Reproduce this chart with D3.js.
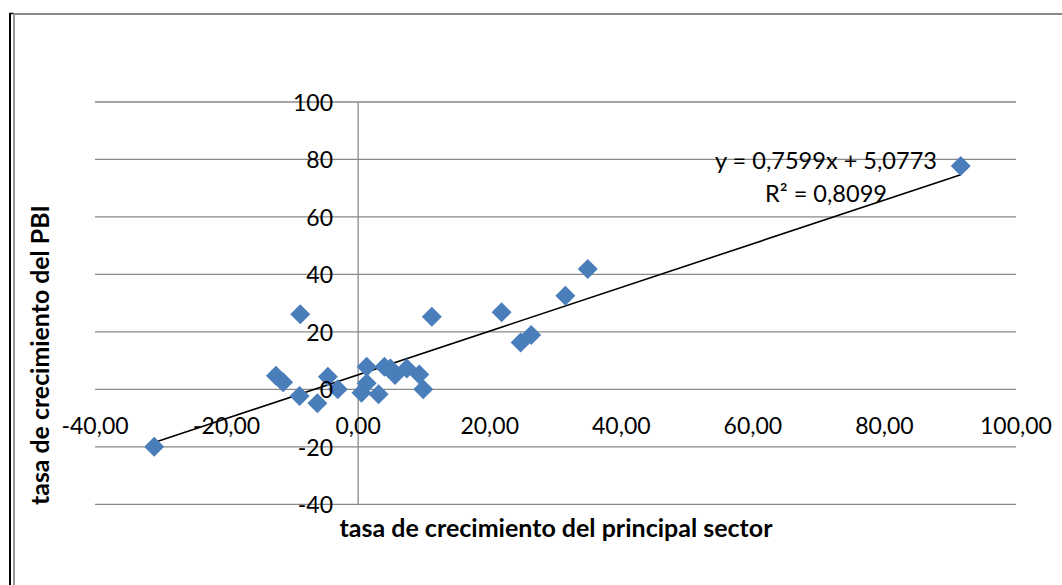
<!DOCTYPE html>
<html>
<head>
<meta charset="utf-8">
<script src="https://cdn.jsdelivr.net/npm/d3@7"></script>
<style>
  html, body { margin: 0; padding: 0; background: #fff; }
  svg { display: block; }
  text { font-family: Lato, "Open Sans", sans-serif; fill: #000; }
</style>
</head>
<body>
<svg id="chart" width="1062" height="585"></svg>
<script>
// ---- data ----
const sectorGrowth = [-31.0, -12.5, -11.4, -8.8, -8.9, -6.2, -4.6, -3.1, 0.5, 1.3, 1.3, 3.1, 4.0, 4.9, 5.6, 7.4, 9.3, 9.9, 11.2, 21.8, 24.7, 26.3, 31.5, 34.9, 91.6];
const gdpGrowth    = [-20.0, 4.7, 2.5, 26.1, -2.3, -4.8, 4.4, 0.0, -1.2, 2.1, 7.9, -1.7, 7.9, 7.3, 5.0, 7.3, 5.2, 0.0, 25.3, 26.8, 16.3, 18.9, 32.6, 41.9, 77.7];
const xTickValues  = [-40, -20, 0, 20, 40, 60, 80, 100];
const yTickValues  = [-40, -20, 0, 20, 40, 60, 80, 100];
const trendSlope = 0.7599;
const trendIntercept = 5.0773;
const trendEquation = "y = 0,7599x + 5,0773";
const trendR2 = "R² = 0,8099";
const xTitle = "tasa de crecimiento del principal sector";
const yTitle = "tasa de crecimiento del PBI";

// ---- layout ----
const svg = d3.select("#chart");
const x = d3.scaleLinear().domain([-40, 100]).range([95, 1016]);
const y = d3.scaleLinear().domain([-40, 100]).range([504.3, 102]);
const gridColor = "#888888";

// outer frame
svg.append("line").attr("x1", 10).attr("x2", 10).attr("y1", 13).attr("y2", 585)
  .attr("stroke", "#000").attr("stroke-width", 2);
svg.append("line").attr("x1", 9).attr("x2", 14).attr("y1", 13.5).attr("y2", 13.5)
  .attr("stroke", "#000").attr("stroke-width", 1.5);
svg.append("line").attr("x1", 14).attr("x2", 14).attr("y1", 14).attr("y2", 585)
  .attr("stroke", "#999").attr("stroke-width", 2);
svg.append("line").attr("x1", 13).attr("x2", 1062).attr("y1", 14).attr("y2", 14)
  .attr("stroke", "#888").attr("stroke-width", 2);

// horizontal gridlines
svg.append("g").selectAll("line").data(yTickValues).join("line")
  .attr("x1", x(-40)).attr("x2", x(100))
  .attr("y1", d => y(d)).attr("y2", d => y(d))
  .attr("stroke", gridColor).attr("stroke-width", 1.3);

// vertical axis line at x = 0
svg.append("line").attr("x1", x(0)).attr("x2", x(0))
  .attr("y1", y(100)).attr("y2", y(-40))
  .attr("stroke", gridColor).attr("stroke-width", 1.3);

// trendline
const xMin = d3.min(sectorGrowth), xMax = d3.max(sectorGrowth);
svg.append("line")
  .attr("x1", x(xMin)).attr("y1", y(trendSlope * xMin + trendIntercept))
  .attr("x2", x(xMax)).attr("y2", y(trendSlope * xMax + trendIntercept))
  .attr("stroke", "#000").attr("stroke-width", 1.6);

// markers (diamonds)
const pts = sectorGrowth.map((v, i) => [v, gdpGrowth[i]]);
const diamond = d3.symbol().type(d3.symbolSquare).size(200);
svg.append("g").selectAll("path").data(pts).join("path")
  .attr("d", diamond)
  .attr("transform", d => `translate(${x(d[0])},${y(d[1])}) rotate(45)`)
  .attr("fill", "#4a7ebb");

// y tick labels
const fmtY = d => String(d);
svg.append("g").selectAll("text").data(yTickValues).join("text")
  .attr("x", 333).attr("y", d => y(d))
  .attr("text-anchor", "end").attr("dominant-baseline", "central")
  .style("font-size", "23px")
  .text(fmtY);

// x tick labels
const fmtX = d => d3.format(".2f")(d).replace(".", ",").replace("−", "-");
svg.append("g").selectAll("text").data(xTickValues).join("text")
  .attr("x", d => x(d)).attr("y", 425)
  .attr("text-anchor", "middle").attr("dominant-baseline", "central")
  .style("font-size", "23px")
  .text(fmtX);

// axis titles / equation fitted to measured widths
function fitText(sel, target, base) {
  const w = sel.node().getComputedTextLength();
  sel.style("font-size", (base * target / w).toFixed(2) + "px");
}
const eq = svg.append("text").attr("x", 826).attr("y", 160)
  .attr("text-anchor", "middle").attr("dominant-baseline", "central")
  .style("font-size", "22px").text(trendEquation);
fitText(eq, 222, 22);
const eqSize = eq.style("font-size");
svg.append("text").attr("x", 826).attr("y", 193)
  .attr("text-anchor", "middle").attr("dominant-baseline", "central")
  .style("font-size", eqSize).text(trendR2);

const xt = svg.append("text").attr("x", 556).attr("y", 527)
  .attr("text-anchor", "middle").attr("dominant-baseline", "central")
  .style("font-size", "20px").style("font-weight", "bold").text(xTitle);
fitText(xt, 433, 20);
const yt = svg.append("text")
  .attr("transform", "translate(39,355) rotate(-90)")
  .attr("text-anchor", "middle").attr("dominant-baseline", "central")
  .style("font-size", "20px").style("font-weight", "bold").text(yTitle);
fitText(yt, 300, 20);
</script>
</body>
</html>
